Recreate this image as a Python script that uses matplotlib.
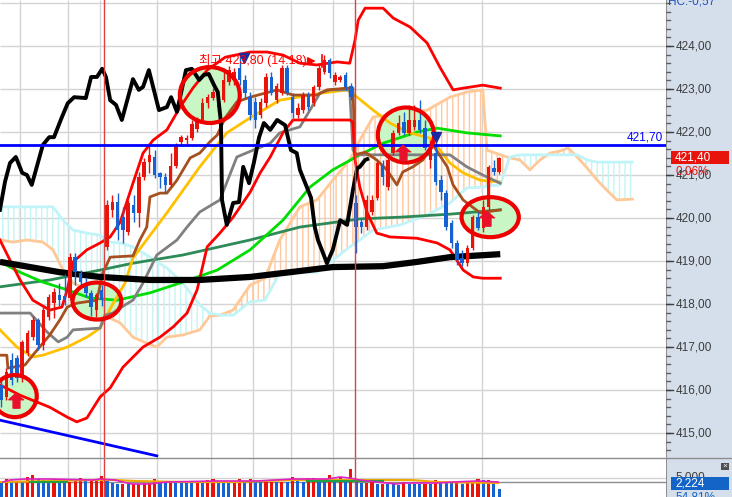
import numpy as np
import matplotlib
matplotlib.use("Agg")
import matplotlib.pyplot as plt
import matplotlib.transforms as mtransforms
from matplotlib.patches import Ellipse, Rectangle
from matplotlib.lines import Line2D

plt.rcParams["font.family"] = ["Liberation Sans", "Noto Sans CJK KR", "DejaVu Sans"]
plt.rcParams["hatch.linewidth"] = 1.0

# ── palette ──────────────────────────────────────────────────────────────
RED = "#e8140c"
BLUE = "#1662d2"
BAND = "#ff0000"
BROWN = "#a5501e"
GOLD = "#ffc000"
GRAY = "#808080"
GREEN = "#00dd00"
DKGREEN = "#2e8b57"
PEACH = "#ffc896"
CYAN = "#c0f4f8"
GRID = "#d4d4d4"
PANEL = "#d5dfec"
FILL = "#c8f7c5"

# ── candles (1-minute bars) ─────────────────────────────────────────────
opens = [416.12, 415.84, 416.70, 416.74, 416.28, 416.86, 417.23, 417.63, 417.05, 417.70,
         418.02, 418.21, 418.19, 418.14, 419.09, 418.72, 418.49, 418.26, 417.86, 418.33,
         419.33, 420.19, 420.37, 420.02, 419.67, 420.30, 420.12, 420.95, 421.30, 421.42,
         421.05, 420.95, 420.77, 421.21, 421.77, 421.81, 421.86, 422.07, 422.28, 422.67,
         422.79, 422.86, 422.74, 423.16, 423.21, 423.49, 423.21, 422.81, 422.70, 422.40,
         422.67, 423.28, 422.74, 422.91, 423.49, 422.81, 422.40, 422.51, 422.86, 422.67,
         423.05, 423.40, 423.67, 423.16, 423.21, 423.33, 423.07, 420.35, 419.91, 419.79,
         420.14, 420.47, 421.23, 420.72, 421.51, 421.98, 422.23, 421.98, 422.12, 422.28,
         422.09, 421.35, 421.51, 420.88, 420.58, 419.88, 419.42, 419.07, 418.95, 419.30,
         420.02, 419.77, 420.26, 421.16, 421.07]
closes = [415.77, 416.42, 416.23, 416.28, 417.12, 417.33, 417.63, 417.05, 417.86, 418.16,
          418.28, 418.09, 418.09, 419.09, 418.74, 418.51, 418.26, 417.93, 418.21, 418.09,
          420.30, 420.37, 419.72, 419.72, 420.35, 420.12, 420.95, 421.30, 421.47, 421.00,
          420.95, 420.77, 421.21, 421.70, 421.88, 421.86, 422.19, 422.28, 422.67, 422.81,
          422.93, 422.58, 423.21, 423.44, 423.40, 423.21, 422.91, 422.40, 422.28, 422.70,
          423.28, 422.91, 423.07, 423.49, 422.91, 422.44, 422.56, 422.86, 422.58, 423.05,
          423.49, 423.67, 423.37, 423.33, 423.28, 423.05, 422.81, 419.79, 419.79, 420.42,
          420.42, 421.28, 420.95, 421.35, 421.98, 422.21, 421.98, 422.28, 422.28, 422.05,
          421.63, 421.65, 420.84, 420.60, 419.79, 419.42, 419.02, 418.95, 419.30, 420.02,
          419.77, 420.26, 421.19, 421.07, 421.40]
highs = [416.28, 416.51, 416.86, 416.81, 417.16, 417.40, 417.72, 417.67, 417.98, 418.23,
         418.37, 418.49, 418.70, 419.19, 419.19, 418.79, 418.60, 418.33, 418.26, 418.44,
         420.42, 420.53, 420.58, 420.26, 420.42, 420.53, 421.07, 421.40, 421.74, 421.58,
         421.07, 421.05, 421.51, 421.74, 421.93, 421.93, 422.28, 422.35, 422.79, 422.88,
         423.02, 422.98, 423.44, 423.53, 423.49, 423.79, 423.33, 422.93, 422.81, 422.79,
         423.37, 423.40, 423.14, 423.56, 423.56, 422.91, 422.67, 422.93, 422.93, 423.09,
         423.56, 423.80, 423.72, 423.40, 423.33, 423.40, 423.14, 420.53, 420.00, 420.53,
         420.53, 421.35, 421.35, 421.47, 422.05, 422.40, 422.47, 422.63, 422.63, 422.74,
         422.28, 421.81, 421.81, 421.00, 420.65, 419.95, 419.49, 419.26, 419.37, 420.07,
         420.14, 420.42, 421.23, 421.35, 421.42]
lows = [415.60, 415.77, 416.12, 416.19, 416.19, 416.79, 417.16, 416.93, 416.93, 417.63,
        417.67, 417.95, 417.98, 418.09, 418.44, 418.44, 418.16, 417.72, 417.70, 417.95,
        419.26, 420.02, 419.49, 419.42, 419.60, 419.91, 419.79, 420.88, 421.05, 420.93,
        420.70, 420.58, 420.72, 421.16, 421.67, 421.67, 421.81, 422.00, 422.23, 422.56,
        422.74, 422.47, 422.70, 423.09, 423.09, 423.09, 422.79, 422.28, 422.09, 422.33,
        422.58, 422.86, 422.67, 422.86, 422.86, 422.33, 422.33, 422.44, 422.51, 422.60,
        422.98, 423.35, 423.26, 423.09, 423.16, 422.98, 422.74, 419.19, 419.65, 419.72,
        420.07, 420.42, 420.77, 420.65, 421.47, 421.93, 421.93, 421.93, 422.05, 421.98,
        421.58, 421.16, 420.77, 420.42, 419.72, 419.30, 418.91, 418.88, 418.88, 419.26,
        419.72, 419.67, 420.19, 421.00, 421.02]

# ── volume ───────────────────────────────────────────────────────────────
volume = [3820, 4810, 4360, 4360, 4360, 5430, 5880, 4730, 4550, 4090,
          4730, 4090, 4090, 4090, 4730, 5000, 4360, 4360, 4730, 5620,
          4730, 3820, 3560, 3560, 3560, 3560, 3560, 3820, 3820, 4730,
          4090, 4090, 4090, 4090, 4090, 3820, 3820, 4090, 4090, 4550,
          4810, 4090, 4090, 4090, 4090, 4810, 4090, 4810, 4550, 4090,
          4090, 4090, 4090, 4090, 4090, 5350, 4730, 4090, 5080, 5080,
          4090, 4090, 5880, 4090, 5350, 4090, 7490, 4090, 3820, 3820,
          4090, 3560, 3560, 3560, 3560, 3290, 4090, 3560, 3560, 3560,
          3560, 3560, 4550, 3820, 3820, 3820, 4090, 3560, 4090, 4090,
          4810, 4550, 4550, 4090, 2224]
vol_up = [0, 1, 0, 1, 0, 1, 1, 0, 0, 0,
          1, 0, 0, 1, 1, 1, 0, 1, 1, 1,
          0, 0, 0, 1, 0, 1, 1, 1, 1, 1,
          0, 0, 1, 0, 0, 0, 0, 1, 0, 1,
          1, 0, 0, 0, 1, 1, 0, 1, 0, 0,
          1, 1, 0, 1, 0, 1, 0, 0, 1, 1,
          0, 0, 1, 0, 1, 0, 1, 0, 0, 1,
          1, 0, 1, 0, 0, 0, 1, 0, 0, 0,
          1, 0, 1, 0, 0, 0, 1, 0, 1, 1,
          1, 0, 1, 0, 0]
vma1_x = [0.4, 1.7, 4.5, 9.2, 17.4, 18.7, 21.5, 23.0, 24.7, 28.1, 29.4, 31.3, 40.4,
          48.3, 55.1, 61.5, 64.0, 65.8, 67.7, 70.9, 74.7, 75.8, 82.3, 85.3, 89.8, 93.8]
vma1_y = [4010, 4550, 4810, 4810, 4550, 4810, 4550, 4010, 3480, 3480, 3740, 4010, 4280,
          4280, 4810, 4810, 5350, 5080, 4550, 4010, 3480, 3740, 3740, 4010, 4280, 4010]
vma2_x = [-0.2, 9.8, 17.4, 21.5, 25.3, 35.1, 44.5, 55.1, 72.1, 77.5, 82.3, 93.8]
vma2_y = [4010, 4280, 4550, 4550, 4280, 4010, 4010, 4550, 4550, 4550, 4010, 3740]
vma3_x = [5.5, 12.5, np.nan, 57.8, 72.1]
vma3_y = [4010, 4010, np.nan, 4280, 4280]

# ── overlay lines (bar index, price) ─────────────────────────────────────
osc_x = [-0.2, 0.75, 1.7, 2.8, 4.0, 4.9, 5.8, 7.9, 9.1, 10.0, 11.5, 12.6, 13.8, 16.0,
         17.0, 18.1, 19.1, 19.8, 20.6, 21.7, 22.8, 24.9, 26.0, 26.8, 27.9, 29.8, 31.3,
         32.1, 33.2, 34.9, 36.0, 37.4, 38.3, 39.2, 40.2, 40.9, 41.5, 41.7, 42.6, 43.8,
         44.9, 45.7, 46.8, 47.7, 48.7, 49.6, 50.8, 52.1, 53.6, 54.7, 55.8, 56.4, 57.7,
         58.5, 59.2, 59.8, 61.5, 62.6, 64.0, 65.3, 66.4, 67.2, 67.7, 68.7, 69.1]
osc_y = [420.19, 420.84, 421.28, 421.42, 421.05, 421.00, 420.77, 421.70, 421.88, 421.88,
         422.35, 422.67, 422.81, 422.79, 423.28, 423.28, 423.47, 423.28, 422.74, 422.63,
         422.28, 423.23, 422.98, 423.05, 423.44, 422.51, 422.58, 422.81, 422.47, 423.44,
         423.47, 423.21, 423.33, 423.35, 423.09, 422.93, 422.21, 420.42, 419.84, 420.35,
         420.37, 421.19, 420.81, 421.28, 421.88, 422.21, 422.05, 422.28, 422.16, 421.58,
         421.51, 421.12, 420.72, 420.47, 419.79, 419.49, 418.95, 419.26, 419.95, 419.84,
         420.65, 421.16, 421.19, 421.35, 421.37]

ma_long_x = [-0.2, 5.5, 11.1, 18.7, 28.1, 37.5, 47.0, 54.5, 62.6, 72.1, 78.5, 84.7, 94.2]
ma_long_y = [418.98, 418.86, 418.74, 418.63, 418.56, 418.56, 418.63, 418.74, 418.86,
             418.88, 418.98, 419.09, 419.16]

green_x = [-0.2, 3.6, 7.9, 12.5, 16.8, 21.9, 28.1, 34.3, 40.8, 47.0, 53.2, 58.3, 62.6,
           67.7, 72.1, 78.5, 82.3, 87.9, 94.2]
green_y = [418.98, 418.74, 418.51, 418.33, 418.14, 418.09, 418.26, 418.51, 418.79, 419.26,
           419.95, 420.72, 421.12, 421.47, 421.74, 422.00, 422.09, 421.98, 421.91]

dkgreen_x = [-0.2, 9.2, 18.7, 24.9, 34.3, 47.0, 56.4, 67.7, 75.3, 84.7, 94.2]
dkgreen_y = [418.40, 418.56, 418.79, 418.95, 419.14, 419.49, 419.79, 419.98, 420.02,
             420.09, 420.19]

gold_x = [-0.2, 3.0, 6.0, 7.9, 12.5, 16.2, 18.7, 21.0, 23.4, 24.9, 31.3, 37.5, 42.6,
          47.0, 52.6, 60.8, 65.3, 67.2, 70.2, 73.4, 76.6, 80.9, 82.8, 84.7, 87.2, 90.4, 94.0]
gold_y = [417.40, 417.00, 416.77, 416.81, 417.00, 417.23, 417.44, 417.98, 418.49, 419.07,
          420.12, 421.19, 421.98, 422.33, 422.74, 422.91, 422.98, 422.81, 422.51, 422.21,
          422.00, 421.86, 421.58, 421.28, 421.05, 420.88, 420.84]

gray_x = [-0.2, 5.5, 8.7, 10.8, 12.5, 13.6, 18.7, 19.6, 21.1, 23.4, 24.9, 26.8, 29.4,
          33.2, 35.1, 37.5, 41.3, 44.5, 47.6, 50.8, 52.6, 56.4, 58.3, 60.2, 62.1, 65.8,
          66.4, 67.2, 84.7, 87.9, 90.9, 94.2]
gray_y = [417.79, 417.79, 417.35, 417.12, 417.23, 417.40, 417.44, 417.74, 417.79, 417.98,
          418.09, 418.49, 419.14, 419.49, 419.79, 420.14, 420.42, 421.42, 421.58, 421.74,
          421.98, 422.12, 422.51, 422.91, 422.98, 422.98, 421.58, 421.47, 421.47, 421.19,
          421.00, 420.81]

brown_x = [-0.2, 1.1, 1.3, 4.5, 6.0, 7.9, 9.2, 11.1, 12.5, 14.3, 18.1, 19.2, 20.6, 24.9,
           26.2, 27.5, 28.1, 30.0, 31.3, 33.2, 35.7, 37.5, 39.4, 40.8, 42.3, 44.5, 47.0,
           52.1, 55.1, 59.6, 61.5, 65.3, 66.4, 66.8, 68.7, 70.9, 72.8, 74.7, 75.8, 77.7,
           79.6, 81.5, 82.5, 84.2, 85.3, 87.2, 90.4, 94.2]
brown_y = [416.81, 416.81, 416.51, 416.58, 416.81, 417.09, 417.28, 417.63, 417.93, 418.02,
           418.09, 418.72, 419.09, 419.12, 419.49, 419.79, 420.49, 420.58, 420.58, 420.88,
           421.40, 421.51, 421.77, 421.93, 422.33, 422.70, 422.81, 422.98, 422.86, 422.86,
           422.98, 423.02, 423.02, 421.47, 421.53, 421.35, 421.12, 420.77, 421.07, 421.19,
           421.35, 421.70, 421.51, 421.19, 420.77, 420.42, 420.12, 420.19]

upper_x = [-0.2, 1.7, 3.6, 6.0, 9.2, 11.5, 12.5, 13.6, 16.2, 18.7, 20.6, 22.5, 24.9, 26.8,
           28.7, 31.3, 33.8, 36.2, 38.9, 42.3, 47.0, 50.2, 53.2, 56.4, 59.6, 63.4, 65.8,
           66.8, 67.4, 68.7, 72.1, 74.0, 77.2, 80.4, 82.8, 85.3, 87.2, 90.9, 94.2]
upper_y = [419.49, 419.02, 418.56, 418.09, 417.86, 417.93, 418.33, 418.98, 419.26, 419.42,
           419.56, 419.91, 420.81, 421.51, 421.81, 422.05, 422.58, 423.02, 423.44, 423.74,
           423.86, 423.86, 423.79, 423.60, 423.56, 423.63, 423.60, 424.14, 424.60, 424.88,
           424.88, 424.65, 424.44, 424.07, 423.51, 422.98, 423.02, 423.09, 423.02]

lower_x = [-0.2, 3.6, 6.8, 9.2, 12.5, 14.3, 16.2, 18.7, 20.6, 23.0, 26.8, 30.0, 32.5,
           35.1, 37.0, 38.9, 41.3, 43.8, 47.0, 48.9, 50.8, 53.2, 55.1, 56.4, 65.8, 66.4,
           66.8, 67.7, 69.1, 70.9, 73.4, 78.5, 82.3, 84.7, 86.0, 87.2, 89.1, 90.9, 94.2]
lower_y = [416.12, 415.88, 415.72, 415.60, 415.37, 415.26, 415.35, 415.84, 416.05, 416.53,
           417.00, 417.23, 417.47, 417.79, 418.33, 419.33, 419.65, 420.02, 420.60, 421.05,
           421.42, 421.98, 422.28, 422.28, 422.28, 422.23, 421.35, 420.72, 420.12, 419.65,
           419.56, 419.53, 419.42, 419.26, 419.02, 418.79, 418.63, 418.60, 418.60]

# ichimoku cloud, leading spans shifted 26 bars forward
cloud_x = [-0.2, 2.3, 4.9, 7.9, 9.8, 11.7, 13.6, 16.2, 18.7, 20.6, 22.5, 24.9, 27.5, 29.4,
           31.3, 34.3, 37.5, 39.4, 41.3, 43.8, 47.0, 49.8, 52.6, 56.4, 59.6, 62.6, 65.8,
           67.7, 70.2, 75.3, 80.4, 84.7, 87.9, 90.9, 91.7, 94.2, 96.0, 97.9, 99.8, 101.7,
           103.6, 105.5, 107.0, 108.7, 110.6, 112.5, 114.3, 116.2, 119.1]
span_a = [419.49, 419.44, 419.49, 419.44, 419.26, 418.79, 418.49, 418.33, 417.93, 417.67,
          417.56, 417.23, 417.09, 417.00, 417.23, 417.28, 417.40, 417.72, 417.74, 417.86,
          418.44, 418.60, 419.49, 420.26, 420.42, 420.88, 421.35, 421.81, 422.35, 422.44,
          422.51, 422.81, 422.93, 422.98, 421.58, 421.47, 421.40, 421.35, 421.12, 421.35,
          421.51, 421.56, 421.63, 421.42, 421.16, 420.88, 420.65, 420.42, 420.44]
span_b = [420.26, 420.26, 420.26, 420.26, 420.26, 419.95, 419.72, 419.65, 419.60, 419.44,
          419.42, 419.33, 419.14, 418.98, 418.84, 418.49, 417.98, 417.79, 417.74, 417.74,
          418.05, 418.09, 418.72, 418.74, 418.74, 419.02, 419.33, 419.49, 419.72, 419.84,
          420.07, 420.35, 420.70, 420.72, 420.74, 420.77, 421.42, 421.47, 421.47, 421.47,
          421.47, 421.47, 421.47, 421.47, 421.35, 421.30, 421.30, 421.30, 421.30]

trend_x = [-0.2, 29.4]
trend_y = [415.30, 414.47]

# ── marks & annotations ──────────────────────────────────────────────────
ell_x = [2.6, 18.1, 39.4, 76.4, 92.3]
ell_y = [415.86, 418.07, 422.86, 421.93, 420.02]
ell_w = [8.3, 9.2, 11.3, 10.6, 10.8]
ell_h = [0.98, 0.86, 1.30, 1.28, 0.93]
buy_x = [2.8, 75.8, 91.7]
buy_y = [415.77, 421.53, 420.00]
sell_x = [45.8, 82.1]
sell_y = [423.72, 421.88]
day_breaks = [19.4, 66.8]
vgrid = [3.6, 12.6, 18.7, 29.4, 39.6, 47.5, 54.7, 62.6, 77.7, 90.8]
hgrid = [415, 416, 417, 418, 419, 420, 421, 422, 423, 424, 425]
ref_level = 421.70
last_price = 421.40

# ── figure layout (pixel based) ─────────────────────────────────────────
W, H = 732, 497
PLOT_W, VOL_H, SPLIT = 666, 39, 458
fig = plt.figure(figsize=(W / 100, H / 100), dpi=100, facecolor="white")
ax = fig.add_axes([0, VOL_H / H, PLOT_W / W, SPLIT / H])
axv = fig.add_axes([0, 0, PLOT_W / W, VOL_H / H])
axr = fig.add_axes([PLOT_W / W, 0, (W - PLOT_W) / W, 1])

XLIM = (-1 / 5.3, 665 / 5.3)
ax.set_xlim(*XLIM)
ax.set_ylim(414.42, 425.07)
axv.set_xlim(*XLIM)
axv.set_ylim(0, 10430)
axr.set_xlim(0, 1)
axr.set_ylim(0, 1)
axr.set_facecolor(PANEL)
for a in (ax, axv, axr):
    a.set_xticks([])
    a.set_yticks([])
    for s in a.spines.values():
        s.set_visible(False)

# grid
ax.hlines(hgrid, *XLIM, color=GRID, lw=1, zorder=0)
ax.vlines(vgrid, 414.42, 425.07, color=GRID, lw=1, zorder=0)
axv.vlines(vgrid, 0, 10430, color=GRID, lw=1, zorder=0)
axv.axhline(5000, color=GRID, lw=1, zorder=0)
axv.axhline(4090, color="#8c8c8c", lw=1, zorder=1)

# cloud
ca, cb, cx = np.array(span_a), np.array(span_b), np.array(cloud_x)
ax.fill_between(cx, ca, cb, where=ca >= cb, interpolate=True, facecolor="none",
                edgecolor="#ffc8a0", hatch="|||", linewidth=0, zorder=1)
ax.fill_between(cx, ca, cb, where=ca < cb, interpolate=True, facecolor="none",
                edgecolor="#c4f4f6", hatch="|||", linewidth=0, zorder=1)
ax.plot(cx, ca, color=PEACH, lw=2, zorder=2)
ax.plot(cx, cb, color=CYAN, lw=2, zorder=2)

# ellipse fills
for ex, ey, ew, eh in zip(ell_x, ell_y, ell_w, ell_h):
    ax.add_patch(Ellipse((ex, ey), ew, eh, facecolor=FILL, edgecolor="none", zorder=2.5))

# indicator lines
ax.plot(dkgreen_x, dkgreen_y, color=DKGREEN, lw=2, zorder=3)
ax.plot(green_x, green_y, color=GREEN, lw=2, zorder=3)
ax.plot(gold_x, gold_y, color=GOLD, lw=2, zorder=3)
ax.plot(gray_x, gray_y, color=GRAY, lw=2, zorder=3)
ax.plot(brown_x, brown_y, color=BROWN, lw=2, zorder=3)
ax.plot(upper_x, upper_y, color=BAND, lw=2, zorder=3)
ax.plot(lower_x, lower_y, color=BAND, lw=2, zorder=3)
ax.plot(ma_long_x, ma_long_y, color="black", lw=4.5, zorder=3.5, solid_capstyle="butt")

# candles
o, c, h, l = map(np.array, (opens, closes, highs, lows))
xi = np.arange(len(o))
cols = np.where(c >= o, RED, BLUE)
ax.vlines(xi, l, h, colors=cols, lw=1, zorder=4)
ax.bar(xi, np.maximum(np.abs(c - o), 0.025), bottom=np.minimum(o, c), width=0.65,
       color=cols, linewidth=0, zorder=4)

ax.plot(osc_x, osc_y, color="black", lw=2.8, zorder=5)
ax.plot(trend_x, trend_y, color="#0000ff", lw=2, zorder=5)
ax.axhline(ref_level, color="#0000ff", lw=2, zorder=6)
for d in day_breaks:
    ax.axvline(d, color="#e04040", lw=1, zorder=5)
    axv.axvline(d, color="#e04040", lw=1, zorder=5)

for ex, ey, ew, eh in zip(ell_x, ell_y, ell_w, ell_h):
    ax.add_patch(Ellipse((ex, ey), ew, eh, facecolor="none", edgecolor="#ee0000",
                         lw=3, zorder=6))

arrow_up = [(0, 1), (-1, 0.1), (-0.45, 0.1), (-0.45, -1), (0.45, -1), (0.45, 0.1), (1, 0.1)]
ax.plot(buy_x, buy_y, ls="none", marker=arrow_up, ms=11, color="#e8102a", zorder=7)
ax.plot(sell_x, sell_y, ls="none", marker="v", ms=7, color="#1a2aa0", zorder=7)

ax.text(37.4, 423.67, "최고 423,80 (14:18)", color="#ff0000", fontsize=9,
        ha="left", va="center", zorder=7)
ax.annotate("", xy=(59.9, 423.65), xytext=(57.4, 423.65),
            arrowprops=dict(arrowstyle="-|>", color="#ff0000", lw=1.2, mutation_scale=11),
            zorder=7)
ax.plot([60.6, 60.6], [423.52, 423.78], color="#ff0000", lw=1.2, zorder=7)
ax.text(124.9, ref_level + 0.04, "421,70", color="#0000ff", fontsize=8.5,
        ha="right", va="bottom", zorder=7)

# volume bars + averages
vcols = np.where(np.array(vol_up) == 1, RED, BLUE)
axv.bar(np.arange(len(volume)), volume, width=0.6, color=vcols, linewidth=0, zorder=2)
axv.plot(vma2_x, vma2_y, color="#f0a800", lw=1.5, zorder=3)
axv.plot(vma3_x, vma3_y, color="#20a040", lw=1.5, zorder=3)
axv.plot(vma1_x, vma1_y, color="#e020c0", lw=1.2, zorder=3)

# ── right price scale ───────────────────────────────────────────────────
tp = mtransforms.blended_transform_factory(axr.transAxes, ax.transData)
tv = mtransforms.blended_transform_factory(axr.transAxes, axv.transData)
PX = 1 / (W - PLOT_W)
axr.axvline(0, color="#909090", lw=1.5)
for p in np.arange(414.6, 425.01, 0.2):
    axr.plot([0, 4 * PX], [p, p], transform=tp, color="#606060", lw=1)
for p in hgrid[:-1]:
    axr.plot([0, 7 * PX], [p, p], transform=tp, color="#404040", lw=1)
    axr.text(10 * PX, p, f"{p:.2f}".replace(".", ","), transform=tp, fontsize=8.5,
             color="#3c3c3c", va="center", ha="left")

axr.add_patch(Rectangle((5 * PX, last_price - 0.155), 58 * PX, 0.31, transform=tp,
                        facecolor=RED, edgecolor="none", zorder=5))
axr.text(9 * PX, last_price, "421,40", transform=tp, fontsize=8.5, color="white",
         va="center", ha="left", zorder=6)
axr.text(9 * PX, 421.09, "0,06%", transform=tp, fontsize=8.5, color="#e8140c",
         va="center", ha="left", zorder=6)

axr.text(9 * PX, 5300, "5,000", transform=tv, fontsize=8.5, color="#3c3c3c",
         va="center", ha="left", zorder=4)
axr.add_patch(Rectangle((5 * PX, 1870), 58 * PX, 3480, transform=tv,
                        facecolor="#1464c8", edgecolor="none", zorder=5))
axr.text(9 * PX, 3600, "2,224", transform=tv, fontsize=8.5, color="white",
         va="center", ha="left", zorder=6)
axr.text(9 * PX, -200, "54,81%", transform=tv, fontsize=8.5, color="#1464c8",
         va="center", ha="left", zorder=6)

fig.text(668 / W, 1 - 2 / H, "HC:-0,57", fontsize=8.5, color="#2050c0", va="center")
fig.patches.append(Rectangle((721 / W, 1 - 470 / H), 8 / W, 7 / H, transform=fig.transFigure,
                             facecolor="#505050", edgecolor="none"))
fig.text(725 / W, 1 - 466.5 / H, "×", fontsize=6, color="white", ha="center", va="center")
fig.add_artist(Line2D([0, 1], [VOL_H / H, VOL_H / H], transform=fig.transFigure,
                      color="#8c8c8c", lw=1))

fig.savefig("out.png", dpi=100, facecolor="white")
